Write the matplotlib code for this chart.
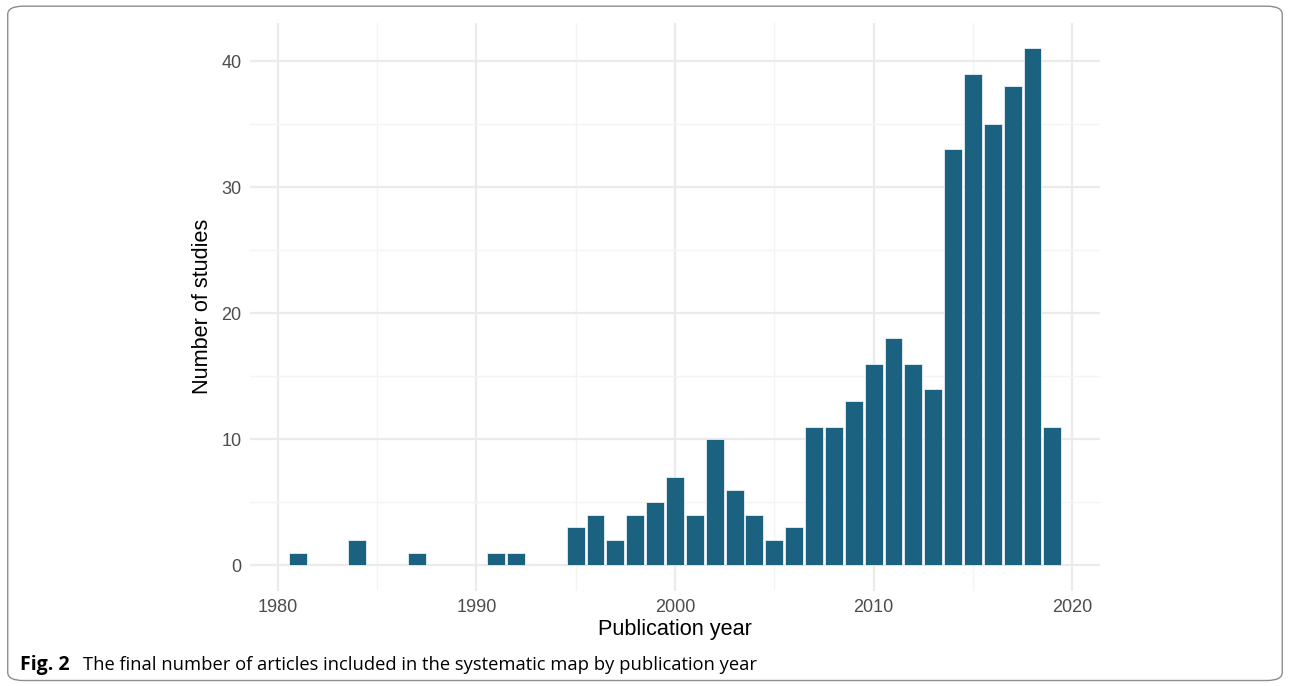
import matplotlib
matplotlib.use("Agg")
import matplotlib.pyplot as plt
from matplotlib.patches import FancyBboxPatch

years = [1981, 1984, 1987, 1991, 1992, 1995, 1996, 1997, 1998, 1999,
         2000, 2001, 2002, 2003, 2004, 2005, 2006, 2007, 2008, 2009,
         2010, 2011, 2012, 2013, 2014, 2015, 2016, 2017, 2018, 2019]
counts = [1, 2, 1, 1, 1, 3, 4, 2, 4, 5,
          7, 4, 10, 6, 4, 2, 3, 11, 11, 13,
          16, 18, 16, 14, 33, 39, 35, 38, 41, 11]
x_ticks = [1980, 1990, 2000, 2010, 2020]
y_ticks = [0, 10, 20, 30, 40]

bar_color = "#1b6180"
grid_major = "#ebebeb"
grid_minor = "#f4f4f4"
tick_color = "#4d4d4d"

fig = plt.figure(figsize=(12.9, 6.86), dpi=100)
ax = fig.add_axes([0.1938, 0.1385, 0.6589, 0.8285])

ax.bar(years, counts, width=0.9, color=bar_color, edgecolor="#e8f0f4",
       linewidth=0.6, zorder=3)

ax.set_xlim(1978.6, 2021.4)
ax.set_ylim(-2.05, 43.05)
ax.set_xticks(x_ticks)
ax.set_yticks(y_ticks)
ax.set_xticks([1985, 1995, 2005, 2015], minor=True)
ax.set_yticks([5, 15, 25, 35], minor=True)
ax.grid(which="major", color=grid_major, linewidth=1.6, zorder=0)
ax.grid(which="minor", color=grid_minor, linewidth=1.0, zorder=0)
ax.tick_params(which="both", length=0, pad=6, labelsize=13,
               labelcolor=tick_color)
for lbl in ax.get_xticklabels() + ax.get_yticklabels():
    lbl.set_fontfamily("Liberation Sans")
for s in ax.spines.values():
    s.set_visible(False)

ax.set_xlabel("Publication year", fontsize=15.6, family="Liberation Sans",
              labelpad=2)
ax.set_ylabel("Number of studies", fontsize=15.6, family="Liberation Sans",
              labelpad=6)

# caption
fig.text(0.0155, 0.024, "Fig. 2", fontsize=14, fontweight="bold",
         family="Open Sans", va="baseline")
fig.text(0.0643, 0.024,
         "The final number of articles included in the systematic map by publication year",
         fontsize=13.2, family="Open Sans", va="baseline")

# rounded frame
frame = FancyBboxPatch((0.006, 0.008), 0.988, 0.983,
                       boxstyle="round,pad=0,rounding_size=0.012",
                       transform=fig.transFigure, fill=False,
                       edgecolor="#8c8c8c", linewidth=1.0)
fig.patches.append(frame)

fig.savefig("out.png", dpi=100)
